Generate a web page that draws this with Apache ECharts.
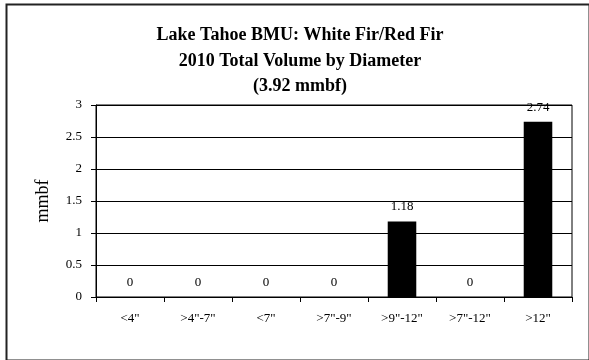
<!DOCTYPE html>
<html><head><meta charset="utf-8">
<script src="https://cdn.jsdelivr.net/npm/echarts@6/dist/echarts.min.js"></script>
<style>html,body{margin:0;padding:0;background:#fff}#c{width:589px;height:360px}</style>
</head><body><div id="c"></div>
<script>
const categories = ['<4"', '>4"-7"', '<7"', '>7"-9"', '>9"-12"', '>7"-12"', '>12"'];
const volumes = [0, 0, 0, 0, 1.18, 0, 2.74];
const titleLines = ['Lake Tahoe BMU: White Fir/Red Fir', '2010 Total Volume by Diameter', '(3.92 mmbf)'];
const yAxisName = 'mmbf';

const FONT = 'Liberation Serif';
const chart = echarts.init(document.getElementById('c'), null, {renderer: 'canvas'});
chart.setOption({
  animation: false,
  backgroundColor: '#fff',
  graphic: [{
    type: 'rect', left: 4, top: 2, shape: {width: 583, height: 356},
    style: {fill: 'none', stroke: '#222', lineWidth: 2}, z: -1
  }],
  title: {
    text: titleLines.join('\n'),
    left: 295, top: 18, textAlign: 'center',
    textStyle: {fontFamily: FONT, fontWeight: 'bold', fontSize: 18, lineHeight: 25.5, color: '#000'}
  },
  grid: {left: 96, right: 17, top: 105, bottom: 63, show: true, borderColor: '#000', borderWidth: 1, backgroundColor: '#fff'},
  xAxis: {
    type: 'category', data: categories,
    axisLine: {lineStyle: {color: '#000', width: 1}},
    axisTick: {show: true, length: 5, lineStyle: {color: '#000'}},
    axisLabel: {fontFamily: FONT, fontSize: 13, color: '#000', margin: 15, interval: 0}
  },
  yAxis: {
    type: 'value', min: 0, max: 3, interval: 0.5,
    name: yAxisName, nameLocation: 'middle', nameGap: 44, nameRotate: 90,
    nameTextStyle: {fontFamily: FONT, fontSize: 18, color: '#000'},
    axisLine: {show: true, lineStyle: {color: '#000', width: 1}},
    axisTick: {show: true, length: 5, lineStyle: {color: '#000'}},
    axisLabel: {fontFamily: FONT, fontSize: 13, color: '#000', margin: 14},
    splitLine: {show: true, lineStyle: {color: '#000', width: 1}}
  },
  series: [{
    type: 'bar', data: volumes, barWidth: '42%',
    itemStyle: {color: '#000'},
    label: {show: true, position: 'top', distance: 8, fontFamily: FONT, fontSize: 13, color: '#000'}
  }]
});
</script></body></html>
